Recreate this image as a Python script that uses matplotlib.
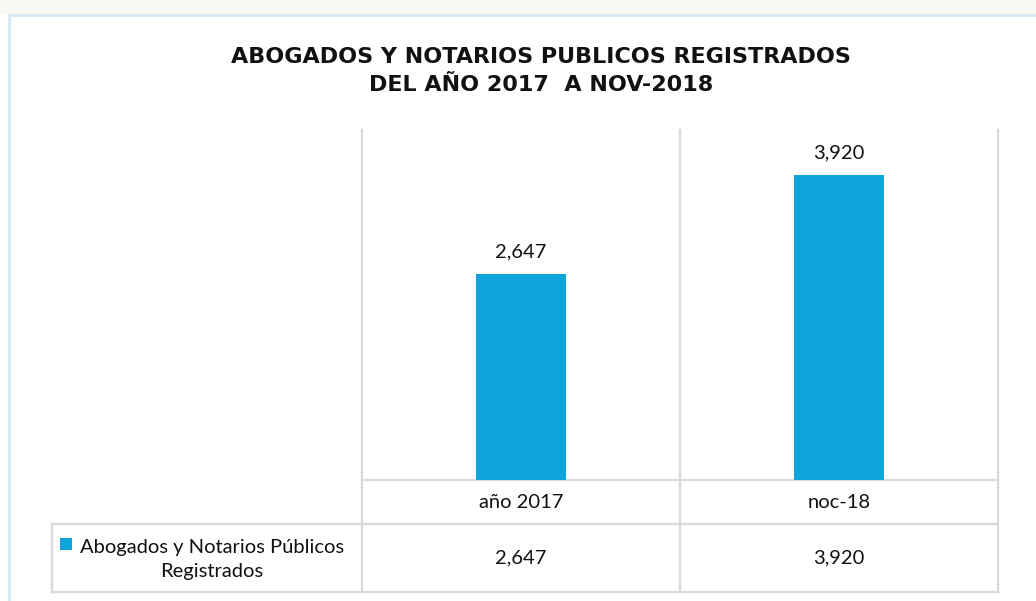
import matplotlib
matplotlib.use("Agg")
import matplotlib.pyplot as plt
from matplotlib.patches import Rectangle
from matplotlib.transforms import blended_transform_factory

# data
categories = ["año 2017", "noc-18"]
values = [2647, 3920]
series_name = "Abogados y Notarios Públicos\nRegistrados"
title = "ABOGADOS Y NOTARIOS PUBLICOS REGISTRADOS\nDEL AÑO 2017  A NOV-2018"

BAR_COLOR = "#0EA5DC"
GRID = "#D9D9D9"
W, H = 1036, 601

plt.rcParams["font.family"] = ["Lato", "DejaVu Sans"]

fig = plt.figure(figsize=(W / 100, H / 100), dpi=100)
fig.patch.set_facecolor("white")

# overlay in pixel coordinates for frame and table lines
ov = fig.add_axes([0, 0, 1, 1])
ov.set_xlim(0, W)
ov.set_ylim(H, 0)
ov.axis("off")
ov.add_patch(Rectangle((0, 0), W, 14, color="#FAF8F4", lw=0))
ov.plot([9, W], [15, 15], color="#D4EAF7", lw=2)
ov.plot([9, 9], [15, H], color="#D4EAF7", lw=2)

# plot area
L, R, T, B = 362, 998, 130, 480
ax = fig.add_axes([L / W, 1 - B / H, (R - L) / W, (B - T) / H])
ax.set_facecolor("none")
x = list(range(len(categories)))
bars = ax.bar(x, values, width=0.286, color=BAR_COLOR, zorder=3)
ax.bar_label(bars, labels=[f"{v:,}" for v in values], padding=10, fontsize=14.5, color="#111111")
ax.set_xlim(-0.5, len(categories) - 0.5)
ax.set_ylim(0, 4500)
ax.set_xticks([])
ax.set_yticks([])
for s in ax.spines.values():
    s.set_visible(False)

# vertical lines at category boundaries, running down through the table
tr = blended_transform_factory(ax.transData, ov.transData)
for b in [i - 0.5 for i in range(len(categories) + 1)]:
    ov.plot([b, b], [T, 592], color=GRID, lw=1.6, transform=tr, clip_on=False)

# table rows
ov.plot([L, R], [480, 480], color=GRID, lw=1.6)
ov.plot([52, R], [524, 524], color=GRID, lw=1.6)
ov.plot([52, R], [592, 592], color=GRID, lw=1.6)
ov.plot([52, 52], [524, 592], color=GRID, lw=1.6)

for i, (cat, v) in enumerate(zip(categories, values)):
    ov.text(i, 502, cat, transform=tr, ha="center", va="center", fontsize=14.5, color="#111111")
    ov.text(i, 558, f"{v:,}", transform=tr, ha="center", va="center", fontsize=14.5, color="#111111")

# legend key + series name
ov.add_patch(Rectangle((60, 538), 12, 12, color=BAR_COLOR, lw=0))
ov.text(212, 559, series_name, ha="center", va="center", multialignment="center",
        fontsize=14.5, color="#111111", linespacing=1.5)

fig.text(541 / W, 1 - 71 / H, title, ha="center", va="center", fontsize=16,
         fontweight="bold", family="DejaVu Sans", linespacing=1.5, color="#111111")

fig.savefig("out.png", dpi=100)
